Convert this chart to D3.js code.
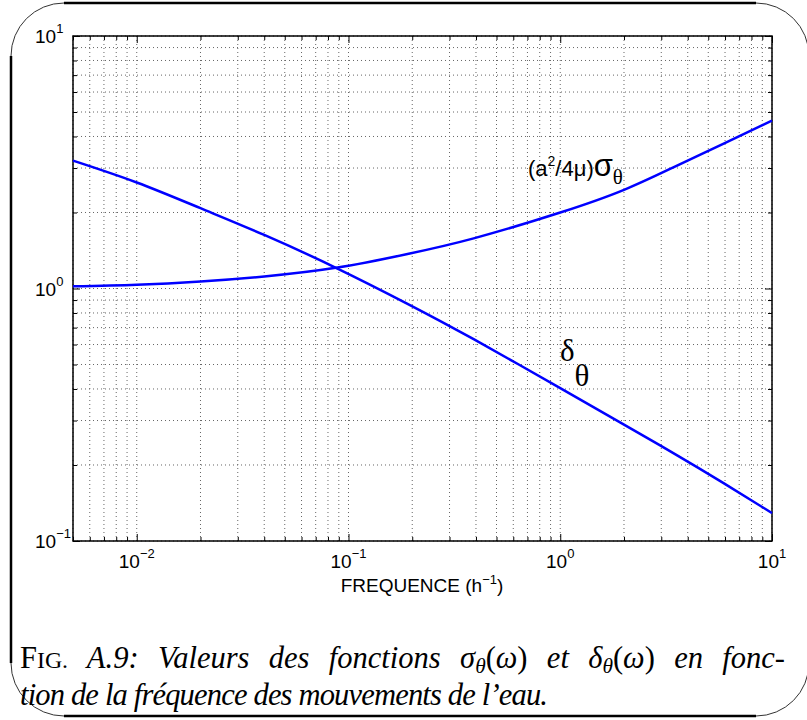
<!DOCTYPE html>
<html>
<head>
<meta charset="utf-8">
<script src="https://cdn.jsdelivr.net/npm/d3@7"></script>
<style>
  body { margin: 0; background: #fff; }
  svg { display: block; }
</style>
</head>
<body>
<div id="chart-area"></div>
<script>
// valeurs
var freq  = [0.005, 0.01, 0.02, 0.04, 0.0887, 0.19, 0.39, 1, 2, 3.42, 5.88, 10];
var sigma = [1.02, 1.035, 1.066, 1.116, 1.21, 1.37, 1.58, 2.0, 2.46, 3.02, 3.74, 4.62];
var delta = [3.21, 2.63, 2.08, 1.63, 1.20, 0.87, 0.63, 0.403, 0.289, 0.223, 0.170, 0.129];

var xMajor = [0.01, 0.1, 1, 10];
var xExp   = ["\u22122", "\u22121", "0", "1"];
var yMajor = [0.1, 1, 10];
var yExp   = ["\u22121", "0", "1"];

var svg = d3.select("#chart-area").append("svg")
    .attr("width", 807)
    .attr("height", 720);

// cadre arrondi autour de la figure
var L = 11, T = 3, R = 809, B = 716, rad = 53;
svg.append("path")
    .attr("d", "M" + (L + rad) + "," + T + " L" + (R - rad) + "," + T +
               " M" + L + "," + (T + rad) + " L" + L + "," + (B - rad) +
               " M" + (L + rad) + "," + B + " L" + (R - rad) + "," + B)
    .attr("stroke", "#000").attr("stroke-width", 2.5).attr("fill", "none");
svg.append("path")
    .attr("d", "M" + L + "," + (T + rad) + " A" + rad + "," + rad + " 0 0 1 " + (L + rad) + "," + T +
               " M" + (R - rad) + "," + T + " A" + rad + "," + rad + " 0 0 1 " + R + "," + (T + rad) +
               " M" + L + "," + (B - rad) + " A" + rad + "," + rad + " 0 0 0 " + (L + rad) + "," + B +
               " M" + (R - rad) + "," + B + " A" + rad + "," + rad + " 0 0 0 " + R + "," + (B - rad))
    .attr("stroke", "#333").attr("stroke-width", 1).attr("fill", "none");

// échelles
var x = d3.scaleLog().domain([0.005, 10]).range([73, 772]);
var y = d3.scaleLog().domain([0.1, 10]).range([541, 36]);

var xAll = x.ticks();
var yAll = y.ticks();

// grille pointillée
svg.selectAll(".vgrid").data(xAll).enter().append("line")
    .attr("x1", d => x(d)).attr("x2", d => x(d))
    .attr("y1", 36).attr("y2", 541)
    .attr("stroke", "#666").attr("stroke-width", 1)
    .attr("stroke-dasharray", "1,3");
svg.selectAll(".hgrid").data(yAll).enter().append("line")
    .attr("x1", 73).attr("x2", 772)
    .attr("y1", d => y(d)).attr("y2", d => y(d))
    .attr("stroke", "#666").attr("stroke-width", 1)
    .attr("stroke-dasharray", "1,3");

// graduations vers l'intérieur sur les quatre côtés
function ticks(axis, pos, values, size) {
    svg.append("g")
        .attr("transform", pos)
        .call(axis.tickValues(values).tickSize(size).tickFormat(""))
        .call(g => g.select(".domain").remove())
        .selectAll("line").attr("stroke", "#000");
}
var xMinor = xAll.filter(d => xMajor.indexOf(d) < 0);
var yMinor = yAll.filter(d => yMajor.indexOf(d) < 0);
ticks(d3.axisBottom(x), "translate(0,541)", xMajor, -7);
ticks(d3.axisBottom(x), "translate(0,541)", xMinor, -4);
ticks(d3.axisTop(x), "translate(0,36)", xMajor, -7);
ticks(d3.axisTop(x), "translate(0,36)", xMinor, -4);
ticks(d3.axisLeft(y), "translate(73,0)", yMajor, -7);
ticks(d3.axisLeft(y), "translate(73,0)", yMinor, -4);
ticks(d3.axisRight(y), "translate(772,0)", yMajor, -7);
ticks(d3.axisRight(y), "translate(772,0)", yMinor, -4);

// boîte des axes
svg.append("rect")
    .attr("x", 73).attr("y", 36)
    .attr("width", 699).attr("height", 505)
    .attr("fill", "none").attr("stroke", "#000").attr("stroke-width", 1.5);

// courbes
var line = d3.line()
    .x(d => x(d[0]))
    .y(d => y(d[1]))
    .curve(d3.curveNatural);
[sigma, delta].forEach(function(s) {
    svg.append("path")
        .attr("d", line(freq.map((f, i) => [f, s[i]])))
        .attr("fill", "none")
        .attr("stroke", "#0000ff")
        .attr("stroke-width", 2.5);
});

// étiquettes des graduations
var font = "'Liberation Sans', Arial, Helvetica, sans-serif";
xMajor.forEach(function(v, i) {
    var t = svg.append("text")
        .attr("x", x(v)).attr("y", 568)
        .attr("text-anchor", "middle")
        .style("font-family", font).style("font-size", "19px");
    t.append("tspan").text("10");
    t.append("tspan").attr("dy", -10).style("font-size", "13px").text(xExp[i]);
});
yMajor.forEach(function(v, i) {
    var t = svg.append("text")
        .attr("x", 35).attr("y", y(v) + 7)
        .style("font-family", font).style("font-size", "19px");
    t.append("tspan").text("10");
    t.append("tspan").attr("dy", -10).style("font-size", "13px").text(yExp[i]);
});

// titre de l'axe x
var xt = svg.append("text")
    .attr("x", 422).attr("y", 592)
    .attr("text-anchor", "middle")
    .style("font-family", font).style("font-size", "19px");
xt.append("tspan").text("FREQUENCE (h");
xt.append("tspan").attr("dy", -8).style("font-size", "13px").text("\u22121");
xt.append("tspan").attr("dy", 8).text(")");

// libellés des courbes
var l1 = svg.append("text")
    .attr("x", 528).attr("y", 176)
    .style("font-family", font).style("font-size", "22px");
l1.append("tspan").text("(a");
l1.append("tspan").attr("dy", -10).style("font-size", "14px").text("2");
l1.append("tspan").attr("dy", 10).text("/4\u03bc)");
l1.append("tspan").style("font-size", "31px").text("\u03c3");
l1.append("tspan").attr("dy", 8).style("font-family", "'Liberation Serif', serif")
    .style("font-size", "21px").text("\u03b8");

var l2 = svg.append("text")
    .attr("x", 560).attr("y", 361)
    .style("font-family", "'Liberation Serif', serif").style("font-size", "31px");
l2.append("tspan").text("\u03b4");
l2.append("tspan").attr("dy", 25).text("\u03b8");

// légende de la figure (justifiée comme en LaTeX)
var serif = "'Liberation Serif', 'DejaVu Serif', serif";
var c2 = svg.append("text")
    .attr("x", 20).attr("y", 705)
    .style("font-family", serif).style("font-size", "29px").style("font-style", "italic")
    .text("tion de la fr\u00e9quence des mouvements de l\u2019eau.");
var fs = 1.07 * 29 * 528 / c2.node().getComputedTextLength();
c2.style("font-size", fs + "px")
    .attr("textLength", 528).attr("lengthAdjust", "spacing");

var c1 = svg.append("text")
    .attr("x", 20).attr("y", 668)
    .style("font-family", serif).style("font-size", fs + "px");
var sub = (fs * 0.7) + "px";
c1.append("tspan").text("F");
c1.append("tspan").style("font-size", (fs * 0.78) + "px").text("IG.");
c1.append("tspan").style("font-style", "italic").text(" A.9: Valeurs des fonctions \u03c3");
c1.append("tspan").attr("dy", 5).style("font-style", "italic").style("font-size", sub).text("\u03b8");
c1.append("tspan").attr("dy", -5).text("(");
c1.append("tspan").style("font-style", "italic").text("\u03c9");
c1.append("tspan").text(")");
c1.append("tspan").style("font-style", "italic").text(" et \u03b4");
c1.append("tspan").attr("dy", 5).style("font-style", "italic").style("font-size", sub).text("\u03b8");
c1.append("tspan").attr("dy", -5).text("(");
c1.append("tspan").style("font-style", "italic").text("\u03c9");
c1.append("tspan").text(")");
c1.append("tspan").style("font-style", "italic").text(" en fonc-");
var w1 = c1.node().getComputedTextLength();
c1.style("word-spacing", ((765 - w1) / 9) + "px");
</script>
</body>
</html>
